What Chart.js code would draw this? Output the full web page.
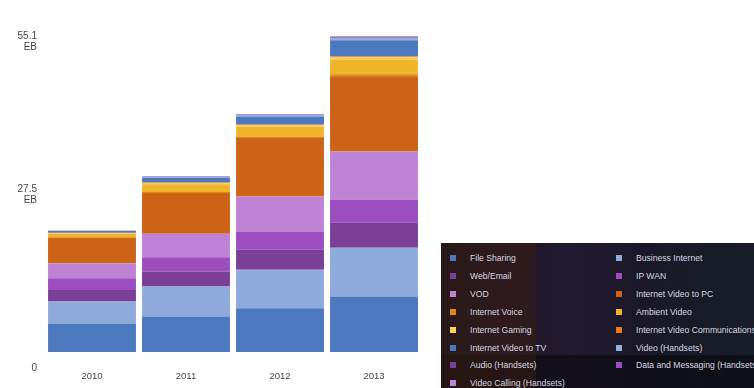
<!DOCTYPE html>
<html>
<head>
<meta charset="utf-8">
<script src="https://cdn.jsdelivr.net/npm/chart.js@4.4.1/dist/chart.umd.min.js"></script>
<style>
  html, body { margin: 0; padding: 0; background: #ffffff; }
  #wrap { position: relative; width: 754px; height: 388px; overflow: hidden; }
  #legend {
    position: absolute; left: 441px; top: 243px; width: 313px; height: 145px; overflow: hidden;
    background:
      linear-gradient(90deg, rgba(60,30,18,0.5) 0px, rgba(60,30,18,0.5) 95px, rgba(0,0,0,0) 95px),
      linear-gradient(180deg, rgba(0,0,0,0) 0px, rgba(0,0,0,0) 112px, rgba(6,6,10,0.55) 112px),
      linear-gradient(90deg, #17131f 0px, #221a30 130px, #1a1828 200px, #161c28 313px);
    font-family: "Liberation Sans", Arial, sans-serif; font-size: 8.6px; color: #d8d8e2;
  }
  .item { position: absolute; height: 10px; line-height: 10px; white-space: nowrap; }
  .sw { position: absolute; left: 0; top: 2px; width: 6px; height: 6px; }
  .lb { position: absolute; left: 20px; top: 0; }
</style>
</head>
<body>
<div id="wrap">
  <canvas id="c" width="754" height="388"></canvas>
  <div id="legend"></div>
</div>
<script>
const categories = ["2010", "2011", "2012", "2013"];
const yTicks = [0, 27.5, 55.1];
const yMax = 55.1;

const seriesNames = [
  "File Sharing", "Business Internet", "Web/Email", "IP WAN", "VOD",
  "Internet Video to PC", "Internet Voice", "Ambient Video", "Internet Gaming",
  "Internet Video Communications", "Internet Video to TV", "Video (Handsets)",
  "Audio (Handsets)", "Data and Messaging (Handsets)", "Video Calling (Handsets)"
];

const fileSharing      = [4.89, 6.17, 7.63, 9.66];
const businessInternet = [3.90, 5.24, 6.69, 8.50];
const webEmail         = [2.04, 2.62, 3.49, 4.37];
const ipWan            = [2.04, 2.51, 3.20, 4.00];
const vod              = [2.62, 4.07, 6.11, 8.43];
const videoToPC        = [4.37, 7.10, 10.20, 13.10];
const internetVoice    = [0.15, 0.20, 0.25, 0.35];
const ambientVideo     = [0.60, 1.35, 1.70, 2.60];
const internetGaming   = [0.12, 0.20, 0.23, 0.35];
const videoComms       = [0.05, 0.10, 0.15, 0.20];
const videoToTV        = [0.30, 0.80, 1.40, 2.80];
const videoHandsets    = [0.05, 0.15, 0.30, 0.45];
const audioHandsets    = [0.02, 0.05, 0.10, 0.10];
const dataHandsets     = [0.02, 0.05, 0.05, 0.10];
const callingHandsets  = [0.01, 0.02, 0.02, 0.04];

const seriesValues = [
  fileSharing, businessInternet, webEmail, ipWan, vod, videoToPC,
  internetVoice, ambientVideo, internetGaming, videoComms, videoToTV,
  videoHandsets, audioHandsets, dataHandsets, callingHandsets
];

const colors = [
  "#4c78bd", "#8fabdc", "#7b3f97", "#9c4dc0", "#bf83d6", "#cd6316",
  "#dd8a12", "#efb62c", "#f3d25e", "#ef7a18", "#4c78bd", "#93b0e0",
  "#7b3f97", "#9c4dc0", "#bf83d6"
];

const datasets = seriesNames.map((name, i) => ({
  label: name,
  data: seriesValues[i],
  backgroundColor: colors[i],
  borderWidth: 0,
  barPercentage: 1.0,
  categoryPercentage: 0.935
}));

const chart = new Chart(document.getElementById("c"), {
  type: "bar",
  data: { labels: categories, datasets: datasets },
  options: {
    responsive: false,
    animation: false,
    layout: { padding: { top: 36, right: 333, left: 0, bottom: 0 } },
    plugins: { legend: { display: false }, tooltip: { enabled: false } },
    scales: {
      x: {
        stacked: true,
        grid: { display: false, drawTicks: false },
        border: { display: false },
        ticks: { padding: 19, color: "#444", font: { family: "Liberation Sans", size: 9.5 } },
        afterFit: (s) => { s.height = 36; }
      },
      y: {
        stacked: true,
        min: 0, max: yMax,
        grid: { display: false, drawTicks: false },
        border: { display: false },
        afterBuildTicks: (s) => { s.ticks = yTicks.map(v => ({ value: v })); },
        ticks: {
          padding: 8,
          color: "#444",
          font: { family: "Liberation Sans", size: 10, lineHeight: 1.1 },
          callback: (v) => {
            if (v === 0) return ["", "", "", "0"];
            if (v === yMax) return ["", v.toFixed(1), "EB"];
            return [v.toFixed(1), "EB"];
          }
        },
        afterFit: (s) => { s.width = 45; }
      }
    }
  }
});

// HTML legend built from the chart's datasets (two columns, row-wise)
const leg = document.getElementById("legend");
chart.data.datasets.forEach((ds, i) => {
  const row = Math.floor(i / 2), col = i % 2;
  const it = document.createElement("div");
  it.className = "item";
  it.style.left = (col === 0 ? 9 : 175) + "px";
  it.style.top = (10 + row * 17.9) + "px";
  const sw = document.createElement("span");
  sw.className = "sw"; sw.style.background = ds.backgroundColor;
  const lb = document.createElement("span");
  lb.className = "lb"; lb.textContent = ds.label;
  it.appendChild(sw); it.appendChild(lb);
  leg.appendChild(it);
});
</script>
</body>
</html>
